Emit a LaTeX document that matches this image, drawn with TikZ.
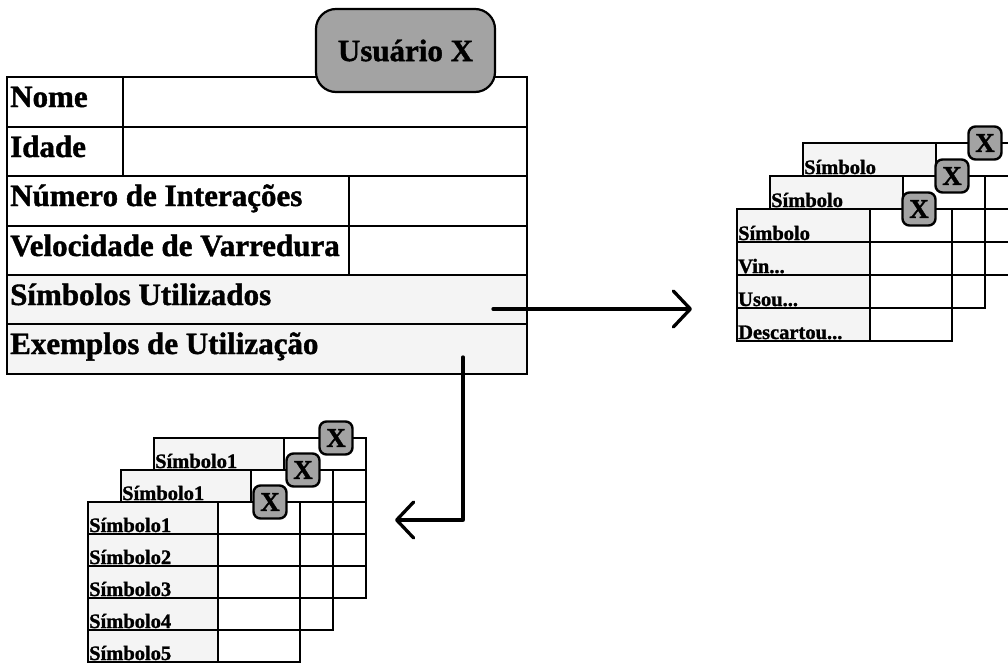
\documentclass[tikz,border=0pt]{standalone}
\usepackage{fontspec}
\setmainfont{Liberation Serif}[BoldFeatures={FakeBold=1.3}]
\usetikzlibrary{arrows.meta}

\newcommand\headfont{\fontsize{31}{36}\selectfont\bfseries}
\newcommand\cellfont{\fontsize{20.5}{24}\selectfont\bfseries}
\newcommand\etcdots{...}
\definecolor{shade}{gray}{0.64}
\definecolor{faint}{gray}{0.955}

% A record card: #1 name prefix, #2 left, #3 top, #4 row height,
% #5 number of rows, #6 label column width, #7 value column width, #8 labels
\newcommand\drawcard[8]{%
  \fill[faint] (#2,#3) rectangle ++(#6,{#4*#5});
  \fill[white] ({#2+#6},#3) rectangle ++(#7,{#4*#5});
  \foreach \lab [count=\i] in {#8} {
    \node[smalltext] (#1-\i) at ({#2+1},{#3+#4*\i-2}) {\lab};
  }
  \draw[cardrule] (#2,#3) rectangle ++({#6+#7},{#4*#5});
  \pgfmathtruncatemacro\lastrow{#5-1}
  \foreach \i in {1,...,\lastrow} {
    \draw[cardrule] (#2,{#3+#4*\i}) -- ++({#6+#7},0);
  }
  \draw[cardrule] ({#2+#6},#3) -- ++(0,{#4*#5});
  \node[badge] (#1-x) at ({#2+182},{#3}) {X};
}

\begin{document}
\begin{tikzpicture}[x=1pt,y=-1pt,
  rule/.style={line width=1.7pt},
  cardrule/.style={line width=1.7pt},
  bigtext/.style={font=\headfont, anchor=base west, inner sep=0pt},
  smalltext/.style={font=\cellfont, anchor=base west, inner sep=0pt},
  flow/.style={line width=3.3pt, line cap=round, line join=round,
    -{Straight Barb[length=17pt,width=36pt,line cap=round,line join=round]}},
  badge/.style={draw, line width=2.4pt, fill=shade, rounded corners=7pt,
    minimum size=33pt, inner sep=0pt, font=\fontsize{27}{27}\selectfont\bfseries},
  title/.style={draw, line width=2.2pt, fill=shade, rounded corners=20pt,
    minimum width=179pt, minimum height=83pt, inner sep=0pt, font=\headfont}
]
\useasboundingbox (0,0) rectangle (1008,666);

% user record
\fill[faint] (7,275) rectangle (527,374);
\node[bigtext] (nome)   at (10,107) {Nome};
\node[bigtext] (idade)  at (10,157) {Idade};
\node[bigtext] (numero) at (10,206) {Número de Interações};
\node[bigtext] (veloc)  at (10,256) {Velocidade de Varredura};
\node[bigtext] (simb)   at (10,305) {Símbolos Utilizados};
\node[bigtext] (exem)   at (10,354) {Exemplos de Utilização};
\draw[rule] (7,77) rectangle (527,374);
\foreach \y in {127,176,226,275,324} \draw[rule] (7,\y) -- (527,\y);
\draw[rule] (123,77) -- (123,176);
\draw[rule] (349,176) -- (349,275);
\node[title] (user) at (405.5,50.5) {Usuário X};

% symbol cards
\drawcard{sa}{803}{143}{33}{4}{133}{82}{Símbolo}
\drawcard{sb}{770}{176}{33}{4}{133}{82}{Símbolo}
\drawcard{sc}{737}{209}{33}{4}{133}{82}{Símbolo,Vin\etcdots,Usou\etcdots,Descartou\etcdots}

% example cards
\drawcard{ea}{154}{438}{32}{5}{130}{82}{Símbolo1}
\drawcard{eb}{121}{470}{32}{5}{130}{82}{Símbolo1}
\drawcard{ec}{88}{502}{32}{5}{130}{82}{Símbolo1,Símbolo2,Símbolo3,Símbolo4,Símbolo5}

% links from the record to the cards
\coordinate (simbout) at (493,309);
\coordinate (symcards) at (692,309);
\coordinate (exemout) at (463,357);
\coordinate (excards) at (395,520);
\draw[flow] (simbout) -- (symcards);
\draw[flow] (exemout) |- (excards);
\end{tikzpicture}
\end{document}
